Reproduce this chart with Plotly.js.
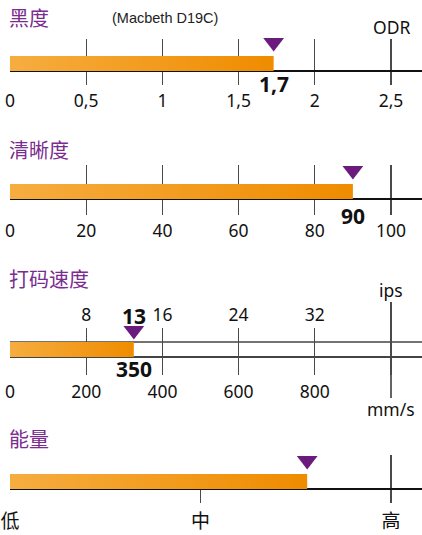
<!DOCTYPE html>
<html>
<head>
<meta charset="utf-8">
<script src="https://cdn.plot.ly/plotly-3.0.1.min.js"></script>
<style>html,body{margin:0;padding:0;background:#fff;}#chart{width:422px;height:535px;}</style>
</head>
<body>
<div id="chart"></div>
<script>
// ---- data ----
const panelTitles = ['黑度', '清晰度', '打码速度', '能量'];
const odrTicks = [0, 0.5, 1, 1.5, 2, 2.5];
const odrTickLabels = ['0', '0,5', '1', '1,5', '2', '2,5'];
const odrValue = 1.73;
const odrValueLabel = '1,7';
const clarityTicks = [0, 20, 40, 60, 80, 100];
const clarityTickLabels = ['0', '20', '40', '60', '80', '100'];
const clarityValue = 90;
const clarityValueLabel = '90';
const ipsTicks = [8, 16, 24, 32];
const ipsTickLabels = ['8', '16', '24', '32'];
const ipsMax = 40;
const mmsTicks = [0, 200, 400, 600, 800];
const mmsTickLabels = ['0', '200', '400', '600', '800'];
const mmsMax = 1000;
const speedIps = 13;
const speedMms = 350;
const energyTicks = [0, 0.5, 1];
const energyTickLabels = ['低', '中', '高'];
const energyValue = 0.78;

// ---- layout helpers ----
const W = 422, H = 535;
const px = v => v / W;
const py = v => 1 - v / H;
const X0 = 10, XMAXPX = 391;
const rangeEnd = max => max * (W - X0) / (XMAXPX - X0);
const BAR_H = 15;
const FONT = '"Noto Sans", "Noto Sans CJK SC", sans-serif';
const PURPLE_T = '#7a2c8f';
const PURPLE_M = '#6a1b7b';
const GRID = '#4a4a4a';
const AXIS = '#111';

function barTrace(v, xa, ya) {
  return {
    type: 'scatter', mode: 'lines', xaxis: xa, yaxis: ya,
    x: [0, v, v, 0, 0], y: [0, 0, BAR_H, BAR_H, 0],
    fill: 'toself', line: {width: 0, color: 'rgba(0,0,0,0)'},
    fillcolor: '#f29c1c',
    fillgradient: {type: 'horizontal', colorscale: [[0, '#f6ad40'], [1, '#ef8c00']]},
    hoverinfo: 'skip', showlegend: false
  };
}
function markerTrace(v, yv, xa, ya) {
  return {
    type: 'scatter', mode: 'markers', xaxis: xa, yaxis: ya, x: [v], y: [yv],
    marker: {symbol: 'triangle-down', size: 18, color: PURPLE_M, line: {width: 0}},
    cliponaxis: false, hoverinfo: 'skip', showlegend: false
  };
}

const data = [
  barTrace(odrValue, 'x', 'y'), markerTrace(odrValue, 28.5, 'x', 'y'),
  barTrace(clarityValue, 'x2', 'y2'), markerTrace(clarityValue, 28.5, 'x2', 'y2'),
  barTrace(speedIps, 'x5', 'y3'), markerTrace(speedIps, 26.5, 'x5', 'y3'),
  barTrace(energyValue, 'x4', 'y4'), markerTrace(energyValue, 28.5, 'x4', 'y4')
];

const tickFont = {family: FONT, size: 17.5, color: '#111'};
function xBase(extra) {
  return Object.assign({
    domain: [px(X0), 1], showline: false, zeroline: false, fixedrange: true,
    ticks: '', tickfont: tickFont, gridcolor: GRID, gridwidth: 1.3, tickmode: 'array'
  }, extra);
}
function yBase(domPx, axisPx, extra) {
  const lo = -(domPx[1] - axisPx), hi = axisPx - domPx[0];
  return Object.assign({
    domain: [py(domPx[1]), py(domPx[0])], range: [lo, hi],
    showgrid: false, showticklabels: false, ticks: '', fixedrange: true,
    zeroline: true, zerolinecolor: AXIS, zerolinewidth: 1.4
  }, extra);
}

const layout = {
  width: W, height: H, margin: {l: 0, r: 0, t: 0, b: 0},
  paper_bgcolor: '#fff', plot_bgcolor: 'rgba(0,0,0,0)', showlegend: false,
  font: {family: FONT, color: '#111'},
  xaxis: xBase({anchor: 'y', range: [0, rangeEnd(2.5)], tickvals: odrTicks, ticktext: odrTickLabels, showgrid: true, ticklabelstandoff: 3}),
  yaxis: yBase([39, 85], 71, {anchor: 'x'}),
  xaxis2: xBase({anchor: 'y2', range: [0, rangeEnd(100)], tickvals: clarityTicks, ticktext: clarityTickLabels, showgrid: true, ticklabelstandoff: 3}),
  yaxis2: yBase([165, 215], 199, {anchor: 'x2'}),
  xaxis3: xBase({anchor: 'y3', range: [0, rangeEnd(mmsMax)], tickvals: mmsTicks, ticktext: mmsTickLabels,
    showgrid: false, ticks: 'inside', ticklen: 47, tickwidth: 1.3, tickcolor: GRID, layer: 'below traces', ticklabelstandoff: 4,
    minor: {tickmode: 'array', tickvals: [0, mmsMax], showgrid: true, gridcolor: GRID, gridwidth: 1.3, ticks: ''}}),
  yaxis3: yBase([302, 375], 357, {anchor: 'x3', zerolinecolor: '#444', zerolinewidth: 1.3}),
  xaxis5: xBase({overlaying: 'x3', anchor: 'free', position: py(328), side: 'top', range: [0, rangeEnd(ipsMax)],
    tickvals: ipsTicks, ticktext: ipsTickLabels, showgrid: false, ticklabelstandoff: 4}),
  xaxis4: xBase({anchor: 'y4', range: [0, rangeEnd(1)], tickvals: energyTicks, ticktext: energyTickLabels,
    tickfont: {family: '"Noto Sans CJK SC", sans-serif', size: 19, color: '#111'},
    showgrid: false, ticks: 'inside', ticklen: 13, tickwidth: 1.3, tickcolor: GRID, layer: 'below traces', ticklabelstandoff: 5,
    minor: {tickmode: 'array', tickvals: [0, 1], showgrid: true, gridcolor: GRID, gridwidth: 1.3, ticks: ''}}),
  yaxis4: yBase([455, 503], 489, {anchor: 'x4'}),
  shapes: [
    {type: 'line', xref: 'x3 domain', yref: 'y3', x0: 0, x1: 1, y0: BAR_H, y1: BAR_H, line: {color: '#444', width: 1.3}, layer: 'below'},
    {type: 'line', xref: 'x3', yref: 'paper', x0: mmsMax, x1: mmsMax, y0: py(375), y1: py(398), line: {color: AXIS, width: 1.3}}
  ],
  annotations: []
};

const titleY = [18, 149, 278, 438];
panelTitles.forEach((t, i) => {
  layout.annotations.push({text: t, xref: 'paper', yref: 'paper', x: px(7), y: py(titleY[i]),
    xanchor: 'left', yanchor: 'middle', showarrow: false,
    font: {family: '"Noto Sans CJK SC", sans-serif', size: 20, color: PURPLE_T}});
});
const boldFont = {family: FONT, size: 21, color: '#111', weight: 'bold'};
layout.annotations.push(
  {text: '(Macbeth D19C)', xref: 'paper', yref: 'paper', x: px(165), y: py(18), xanchor: 'center', yanchor: 'middle', showarrow: false,
   font: {family: '"Liberation Sans", Arial, sans-serif', size: 14.5, color: '#222'}},
  {text: 'ODR', xref: 'x', yref: 'paper', x: 2.5, y: py(27), xanchor: 'center', yanchor: 'middle', showarrow: false, font: tickFont},
  {text: odrValueLabel, xref: 'x', yref: 'paper', x: odrValue, y: py(84), xanchor: 'center', yanchor: 'middle', showarrow: false, font: boldFont},
  {text: clarityValueLabel, xref: 'x2', yref: 'paper', x: clarityValue, y: py(216), xanchor: 'center', yanchor: 'middle', showarrow: false, font: boldFont},
  {text: String(speedIps), xref: 'x5', yref: 'paper', x: speedIps, y: py(316), xanchor: 'center', yanchor: 'middle', showarrow: false, font: boldFont},
  {text: String(speedMms), xref: 'x5', yref: 'paper', x: speedIps, y: py(369), xanchor: 'center', yanchor: 'middle', showarrow: false, font: boldFont},
  {text: 'ips', xref: 'x3', yref: 'paper', x: mmsMax, y: py(290), xanchor: 'center', yanchor: 'middle', showarrow: false, font: tickFont},
  {text: 'mm/s', xref: 'x3', yref: 'paper', x: mmsMax, y: py(409), xanchor: 'center', yanchor: 'middle', showarrow: false, font: tickFont}
);

Plotly.newPlot('chart', data, layout, {displayModeBar: false, staticPlot: true});
</script>
</body>
</html>
